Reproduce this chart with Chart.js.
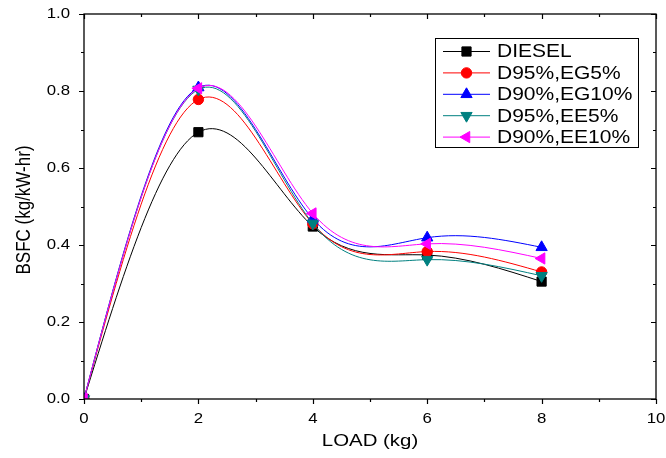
<!DOCTYPE html>
<html>
<head>
<meta charset="utf-8">
<script src="https://cdn.jsdelivr.net/npm/chart.js@4.4.1/dist/chart.umd.min.js"></script>
<style>
html,body{margin:0;padding:0;background:#fff;}
#wrap{width:666px;height:458px;position:relative;}
</style>
</head>
<body>
<div id="wrap"><canvas id="c"></canvas></div>
<script>
// load (kg) on x, BSFC (kg/kW-hr) on y
var loads=[0,2,4,6,8];
var diesel=[0,0.693,0.448,0.374,0.305];
var eg5=[0,0.778,0.455,0.383,0.330];
var eg10=[0,0.809,0.468,0.419,0.394];
var ee5=[0,0.804,0.456,0.362,0.320];
var ee10=[0,0.807,0.482,0.403,0.365];
var names=['DIESEL','D95%,EG5%','D90%,EG10%','D95%,EE5%','D90%,EE10%'];
var xTicks=[0,2,4,6,8,10];
var yTicks=[0,0.2,0.4,0.6,0.8,1.0];

var FONT='"Liberation Sans", Arial, sans-serif';
var SX=1.2; // text is drawn a bit wide

function pts(arr){
    var out=[];
    for(var i=0;i<loads.length;i++)out.push({x:loads[i],y:arr[i]});
    return out;
}

function mk(i,vals,col,style,rot,rad){
    return {label:names[i],data:pts(vals),borderColor:col,backgroundColor:col,borderWidth:1,
        pointStyle:style,pointRotation:rot,pointRadius:rad,pointHoverRadius:rad,pointBorderWidth:1,
        pointBorderColor:col,pointBackgroundColor:col,tension:0.4,order:5-i,fill:false};
}

function wtext(ctx,s,x,y,align){
    ctx.save();
    ctx.translate(x,y);
    ctx.scale(SX,1);
    ctx.textAlign=align;
    ctx.fillText(s,0,0);
    ctx.restore();
}

// natural cubic spline through the points instead of chart.js' cardinal curve
var spline={
    id:'spline',
    beforeDatasetsDraw:function(ch){
        ch.data.datasets.forEach(function(ds,di){
            var meta=ch.getDatasetMeta(di),p=meta.data,n=p.length;
            if(n<3)return;
            meta.dataset.updateControlPoints(ch.chartArea,'x');
            var h=[],i;
            for(i=0;i<n-1;i++)h.push(p[i+1].x-p[i].x);
            // tridiagonal solve for second derivatives, M0=Mn=0
            var a=[],b=[],c=[],r=[],M=new Array(n).fill(0);
            for(i=1;i<n-1;i++){
                a[i]=h[i-1];b[i]=2*(h[i-1]+h[i]);c[i]=h[i];
                r[i]=6*((p[i+1].y-p[i].y)/h[i]-(p[i].y-p[i-1].y)/h[i-1]);
            }
            for(i=2;i<n-1;i++){
                var w=a[i]/b[i-1];
                b[i]-=w*c[i-1];r[i]-=w*r[i-1];
            }
            for(i=n-2;i>=1;i--)M[i]=(r[i]-(i<n-2?c[i]*M[i+1]:0))/b[i];
            // slopes at each node
            var m=[];
            for(i=0;i<n;i++){
                if(i<n-1)m[i]=(p[i+1].y-p[i].y)/h[i]-h[i]*(2*M[i]+M[i+1])/6;
                else m[i]=(p[i].y-p[i-1].y)/h[i-1]+h[i-1]*(M[i-1]+2*M[i])/6;
            }
            for(i=0;i<n;i++){
                if(i>0){p[i].cp1x=p[i].x-h[i-1]/3;p[i].cp1y=p[i].y-m[i]*h[i-1]/3;}
                if(i<n-1){p[i].cp2x=p[i].x+h[i]/3;p[i].cp2y=p[i].y+m[i]*h[i]/3;}
            }
        });
    }
};

// frame, ticks, labels and legend
var frame={
    id:'frame',
    afterDraw:function(ch){
        var ctx=ch.ctx,a=ch.chartArea,xs=ch.scales.x,ys=ch.scales.y;
        ctx.save();
        ctx.strokeStyle='#000';ctx.lineWidth=1.3;
        ctx.strokeRect(a.left,a.top,a.right-a.left,a.bottom-a.top);
        ctx.lineWidth=1.2;
        ctx.beginPath();
        for(var v=0;v<=10;v++){
            var px=Math.round(xs.getPixelForValue(v))+0.5,L=(v%2===0)?5:3;
            ctx.moveTo(px,a.bottom);ctx.lineTo(px,a.bottom+L);
            ctx.moveTo(px,a.top);ctx.lineTo(px,a.top+L);
        }
        for(var k=0;k<=10;k++){
            var py=Math.round(ys.getPixelForValue(k/10))+0.5,L2=(k%2===0)?5:3;
            ctx.moveTo(a.left,py);ctx.lineTo(a.left-L2,py);
            ctx.moveTo(a.right,py);ctx.lineTo(a.right-L2,py);
        }
        ctx.stroke();

        ctx.fillStyle='#000';
        ctx.font='14px '+FONT;
        ctx.textBaseline='alphabetic';
        for(var i=0;i<xTicks.length;i++){
            wtext(ctx,String(xTicks[i]),xs.getPixelForValue(xTicks[i]),423,'center');
        }
        ctx.textBaseline='middle';
        for(var j=0;j<yTicks.length;j++){
            wtext(ctx,yTicks[j].toFixed(1),70,ys.getPixelForValue(yTicks[j])+0.5,'right');
        }

        // axis titles
        ctx.font='17px '+FONT;
        ctx.textBaseline='middle';
        wtext(ctx,'LOAD (kg)',(a.left+a.right)/2,441,'center');
        ctx.save();
        ctx.translate(24,210);
        ctx.rotate(-Math.PI/2);
        ctx.scale(1,SX);
        ctx.textAlign='center';
        ctx.fillText('BSFC (kg/kW-hr)',0,0);
        ctx.restore();

        // legend box
        ctx.lineWidth=1;ctx.strokeStyle='#000';
        ctx.strokeRect(435.5,38.5,203,109);
        ctx.font='17.5px '+FONT;
        for(var d=0;d<ch.data.datasets.length;d++){
            var ds=ch.data.datasets[d],ry=51.5+d*21.4;
            ctx.strokeStyle=ds.borderColor;ctx.lineWidth=1;
            ctx.beginPath();ctx.moveTo(443,ry);ctx.lineTo(490,ry);ctx.stroke();
            ctx.fillStyle=ds.pointBackgroundColor;ctx.strokeStyle=ds.pointBorderColor;
            Chart.helpers.drawPoint(ctx,{pointStyle:ds.pointStyle,rotation:ds.pointRotation,radius:ds.pointRadius,borderWidth:1},466.5,ry);
            ctx.fillStyle='#000';
            wtext(ctx,ds.label,497,ry+1,'left');
        }
        ctx.restore();
    }
};

new Chart(document.getElementById('c'),{
    type:'line',
    data:{datasets:[
        mk(0,diesel,'#000000','rect',0,6.5),
        mk(1,eg5,'#ff0000','circle',0,5.2),
        mk(2,eg10,'#0000ff','triangle',0,6.5),
        mk(3,ee5,'#008080','triangle',180,6.5),
        mk(4,ee10,'#ff00ff','triangle',-90,6.5)
    ]},
    options:{
        responsive:true,maintainAspectRatio:false,animation:false,
        layout:{padding:{left:84,right:10,top:14,bottom:59}},
        plugins:{legend:{display:false},tooltip:{enabled:false}},
        scales:{
            x:{type:'linear',min:0,max:10,display:false},
            y:{type:'linear',min:0,max:1,display:false}
        }
    },
    plugins:[spline,frame]
});
</script>
</body>
</html>
